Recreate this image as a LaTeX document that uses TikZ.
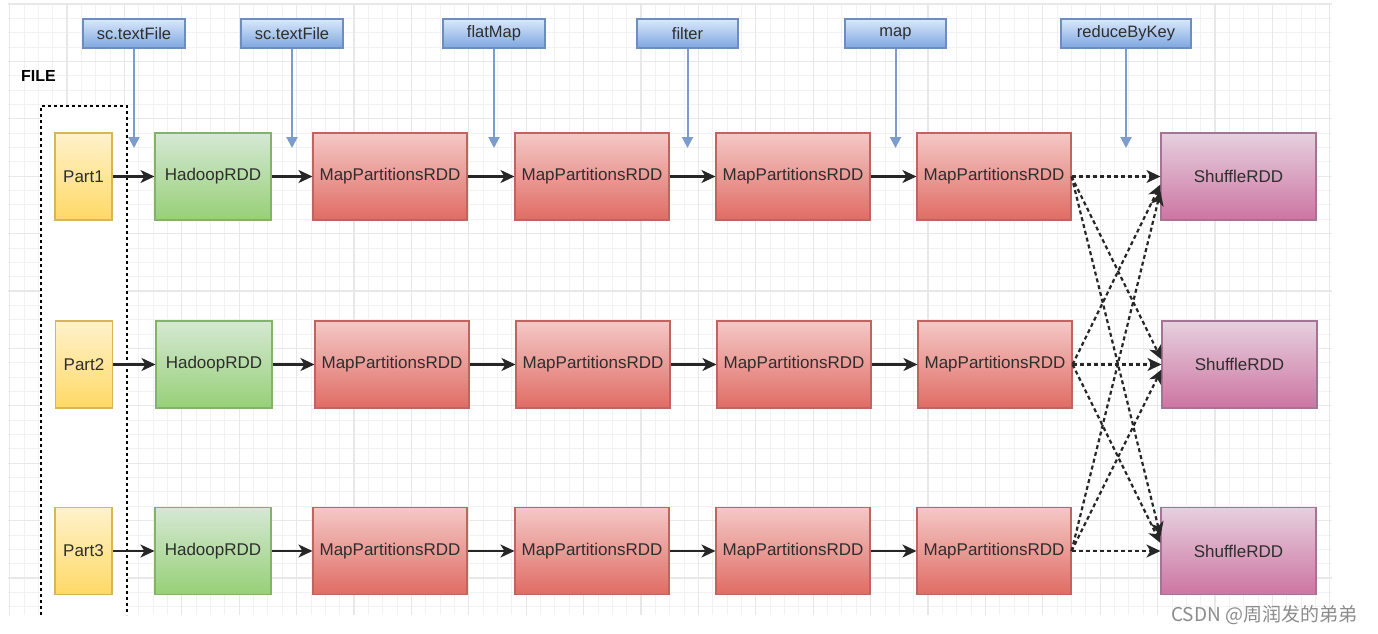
\documentclass[tikz,border=0pt]{standalone}
\usepackage{fontspec}
\setmainfont{Liberation Sans}
\newfontfamily\cjkfont{Noto Sans CJK SC}
\usetikzlibrary{arrows.meta}
\definecolor{partT}{HTML}{FFF2CC}
\definecolor{partB}{HTML}{FFD966}
\definecolor{partD}{HTML}{D6B656}
\definecolor{hadT}{HTML}{D5E8D4}
\definecolor{hadB}{HTML}{97D077}
\definecolor{hadD}{HTML}{82B366}
\definecolor{mpT}{HTML}{F4C8C6}
\definecolor{mpB}{HTML}{E06C64}
\definecolor{mpD}{HTML}{C06460}
\definecolor{shT}{HTML}{E6D0DE}
\definecolor{shB}{HTML}{CD75A2}
\definecolor{shD}{HTML}{A57494}
\definecolor{lbT}{HTML}{DAE8FC}
\definecolor{lbB}{HTML}{7EA6E0}
\definecolor{lbD}{HTML}{6C8EBF}
\definecolor{blueArr}{HTML}{7C9CCB}
\definecolor{txt}{HTML}{2E2E2E}
\definecolor{gridMinor}{HTML}{F2F2F2}
\definecolor{gridMajor}{HTML}{E8E8E8}
\tikzset{
  box/.style={draw, line width=1.1pt, inner sep=0pt, minimum height=87pt, text=txt,
    font=\fontsize{17}{20}\selectfont},
  partbox/.style={box, minimum width=57pt, top color=partT, bottom color=partB, draw=partD},
  hadbox/.style={box, minimum width=116pt, top color=hadT, bottom color=hadB, draw=hadD},
  mpbox/.style={box, minimum width=154pt, top color=mpT, bottom color=mpB, draw=mpD},
  shbox/.style={box, minimum width=155pt, top color=shT, bottom color=shB, draw=shD},
  lblbox/.style={draw=lbD, line width=1.1pt, inner sep=0pt, minimum height=29pt,
    top color=lbT, bottom color=lbB, text=txt, font=\fontsize{16.5}{20}\selectfont},
  flow/.style={draw=black!85, line width=2.2pt, -{Stealth[length=14pt,width=13pt,inset=4pt]}},
  shuf/.style={draw=black!85, line width=2.2pt, dash pattern=on 4pt off 3pt, -{Stealth[length=14pt,width=13pt,inset=4pt]}},
  opArrow/.style={draw=blueArr, line width=2pt, -{Triangle[length=11pt,width=11pt]}},
  minorGrid/.style={draw=gridMinor, line width=0.9pt},
  majorGrid/.style={draw=gridMajor, line width=1.1pt}
}
\begin{document}
\begin{tikzpicture}[x=1pt,y=-1pt]
\useasboundingbox (0,0) rectangle (1378,634);
\fill[white] (0,0) rectangle (1378,634);
% grid
\foreach \i in {0,...,92}{\pgfmathsetmacro\xx{9.6+14.35*\i}\draw[minorGrid] (\xx,3) -- (\xx,615);}
\foreach \j in {0,...,42}{\pgfmathsetmacro\yy{4+14.35*\j}\draw[minorGrid] (8,\yy) -- (1332,\yy);}
\foreach \i in {0,...,23}{\pgfmathsetmacro\xx{9.6+57.4*\i}\draw[majorGrid] (\xx,3) -- (\xx,615);}
\foreach \j in {0,...,10}{\pgfmathsetmacro\yy{4+57.4*\j}\draw[majorGrid] (8,\yy) -- (1332,\yy);}
% FILE group
\fill[white] (41,106) rectangle (127,615);
\draw[line width=2pt, dash pattern=on 3pt off 3pt] (41,615) -- (41,106) -- (127,106) -- (127,615);
\node[anchor=west, font=\bfseries\fontsize{16}{18}\selectfont, inner sep=0pt] (file) at (21,76) {FILE};
% operation labels
\node[lblbox, minimum width=102pt] (l1) at (134,33.5) {sc.textFile};
\node[lblbox, minimum width=102pt] (l2) at (292,33.5) {sc.textFile};
\node[lblbox, minimum width=102pt] (l3) at (494,33.5) {flatMap};
\node[lblbox, minimum width=101pt] (l4) at (687.5,33.5) {filter};
\node[lblbox, minimum width=101pt] (l5) at (895.5,33.5) {map};
\node[lblbox, minimum width=130pt] (l6) at (1126,33.5) {reduceByKey};
\coordinate (t1) at (134,148);
\coordinate (t2) at (292,148);
\coordinate (t3) at (494,148);
\coordinate (t4) at (687.5,148);
\coordinate (t5) at (895.5,148);
\coordinate (t6) at (1126,148);
\foreach \k in {1,...,6}{\draw[opArrow] (l\k) -- (t\k);}
% row 1
\node[partbox] (p1) at (83.5,176.5) {Part1};
\node[hadbox] (h1) at (213,176.5) {HadoopRDD};
\node[mpbox] (a1) at (390,176.5) {MapPartitionsRDD};
\node[mpbox] (b1) at (592,176.5) {MapPartitionsRDD};
\node[mpbox] (c1) at (793,176.5) {MapPartitionsRDD};
\node[mpbox] (d1) at (994,176.5) {MapPartitionsRDD};
\node[shbox] (s1) at (1238.5,176.5) {ShuffleRDD};
% row 2
\node[partbox] (p2) at (84,364.5) {Part2};
\node[hadbox] (h2) at (214,364.5) {HadoopRDD};
\node[mpbox] (a2) at (392,364.5) {MapPartitionsRDD};
\node[mpbox] (b2) at (593,364.5) {MapPartitionsRDD};
\node[mpbox] (c2) at (794,364.5) {MapPartitionsRDD};
\node[mpbox] (d2) at (995,364.5) {MapPartitionsRDD};
\node[shbox] (s2) at (1239.5,364.5) {ShuffleRDD};
% row 3
\node[partbox] (p3) at (83.5,551) {Part3};
\node[hadbox] (h3) at (213,551) {HadoopRDD};
\node[mpbox] (a3) at (390,551) {MapPartitionsRDD};
\node[mpbox] (b3) at (592,551) {MapPartitionsRDD};
\node[mpbox] (c3) at (793,551) {MapPartitionsRDD};
\node[mpbox] (d3) at (994,551) {MapPartitionsRDD};
\node[shbox] (s3) at (1238.5,551) {ShuffleRDD};
% flows
\foreach \r in {1,2,3}{
  \draw[flow] (p\r) -- (h\r);
  \draw[flow] (h\r) -- (a\r);
  \draw[flow] (a\r) -- (b\r);
  \draw[flow] (b\r) -- (c\r);
  \draw[flow] (c\r) -- (d\r);
}
% shuffle
\draw[shuf] (d1.east) -- (s1.west);
\draw[shuf] (d2.east) -- ([yshift=-8pt]s1.west);
\draw[shuf] (d3.east) -- ([yshift=-15pt]s1.west);
\draw[shuf] (d1.east) -- ([yshift=5pt]s2.west);
\draw[shuf] (d2.east) -- (s2.west);
\draw[shuf] (d3.east) -- ([yshift=-5pt]s2.west);
\draw[shuf] (d1.east) -- ([yshift=15pt]s3.west);
\draw[shuf] (d2.east) -- ([yshift=8pt]s3.west);
\draw[shuf] (d3.east) -- (s3.west);
% watermark
\node[anchor=west, inner sep=0pt, text=black!45, font=\cjkfont\fontsize{19}{22}\selectfont] (wm) at (1171,615) {CSDN @周润发的弟弟};
\end{tikzpicture}
\end{document}
